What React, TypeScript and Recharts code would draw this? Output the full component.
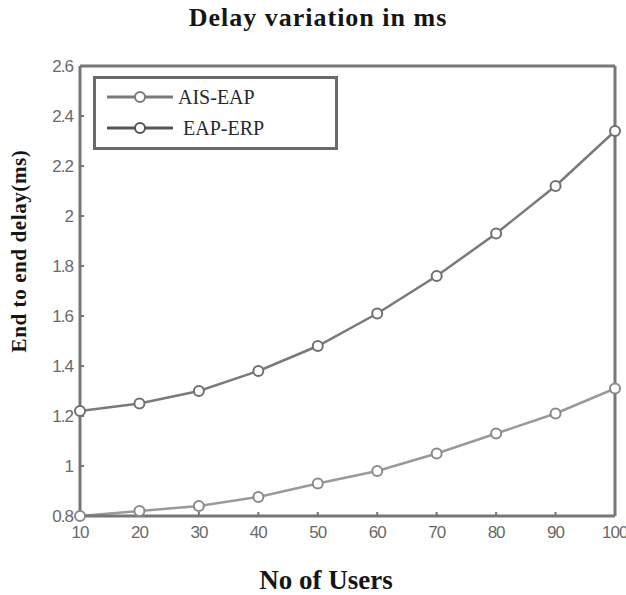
import {
  Line,
  LineChart,
  ReferenceLine,
  XAxis,
  YAxis,
} from 'recharts'

const users = [10, 20, 30, 40, 50, 60, 70, 80, 90, 100]
const aisEap = [0.8, 0.82, 0.84, 0.876, 0.93, 0.98, 1.05, 1.13, 1.21, 1.31]
const eapErp = [1.22, 1.25, 1.3, 1.38, 1.48, 1.61, 1.76, 1.93, 2.12, 2.34]
const yTicks = [0.8, 1, 1.2, 1.4, 1.6, 1.8, 2, 2.2, 2.4, 2.6]
const legendItems = [
  { name: 'AIS-EAP', color: '#7a7a7a' },
  { name: 'EAP-ERP', color: '#555' },
]

const data = users.map((u, i) => ({ users: u, aisEap: aisEap[i], eapErp: eapErp[i] }))

const axisColor = '#777'
const tickStyle = {
  fontSize: 17,
  fill: '#6a6a6a',
  fontFamily: 'Liberation Sans, Arial, sans-serif',
  letterSpacing: -1,
}
const serif = '"Liberation Serif", "Times New Roman", serif'

function LegendBox() {
  return (
    <div
      style={{
        position: 'absolute',
        left: 93,
        top: 76,
        border: '3px solid #6a6a6a',
        width: 245,
        height: 74,
        background: '#fff',
        boxSizing: 'border-box',
        zIndex: 2,
      }}
    >
      {legendItems.map((r, i) => (
        <div
          key={r.name}
          style={{
            position: 'absolute',
            top: 4 + i * 31,
            left: 10,
            display: 'flex',
            alignItems: 'center',
            height: 28,
          }}
        >
          <svg width={72} height={14}>
            <line x1={1} y1={7} x2={67} y2={7} stroke={r.color} strokeWidth={3} />
            <circle cx={34} cy={7} r={5} fill="#fff" stroke={r.color} strokeWidth={2} />
          </svg>
          <span
            style={{
              fontFamily: serif,
              fontSize: 20,
              color: '#2a2a2a',
              marginLeft: i === 0 ? 0 : 5,
            }}
          >
            {r.name}
          </span>
        </div>
      ))}
    </div>
  )
}

export default function App() {
  return (
    <div style={{ position: 'absolute', left: 0, top: 0, width: 626, height: 595, background: '#fff' }}>
      <div
        style={{
          position: 'absolute',
          top: 5,
          left: 0,
          width: 636,
          textAlign: 'center',
          fontFamily: serif,
          fontWeight: 'bold',
          fontSize: 26,
          lineHeight: '26px',
          letterSpacing: 1,
          color: '#151515',
        }}
      >
        Delay variation in ms
      </div>
      <div
        style={{
          position: 'absolute',
          top: 567,
          left: 0,
          width: 652,
          textAlign: 'center',
          fontFamily: serif,
          fontWeight: 'bold',
          fontSize: 27,
          lineHeight: '27px',
          color: '#151515',
        }}
      >
        No of Users
      </div>
      <div
        style={{
          position: 'absolute',
          left: 19,
          top: 251,
          transform: 'translate(-50%, -50%) rotate(-90deg)',
          whiteSpace: 'nowrap',
          fontFamily: serif,
          fontWeight: 'bold',
          fontSize: 21,
          letterSpacing: 0.6,
          color: '#151515',
        }}
      >
        End to end delay(ms)
      </div>
      <LegendBox />
      <LineChart
        width={626}
        height={595}
        data={data}
        margin={{ top: 66, right: 11, bottom: 49, left: 40 }}
      >
        <XAxis
          dataKey="users"
          type="number"
          domain={[10, 100]}
          ticks={users}
          tick={tickStyle}
          tickSize={-4}
          tickMargin={14}
          height={30}
          axisLine={{ stroke: axisColor, strokeWidth: 3 }}
          tickLine={{ stroke: axisColor, strokeWidth: 2 }}
        />
        <XAxis
          xAxisId="top"
          orientation="top"
          dataKey="users"
          type="number"
          domain={[10, 100]}
          ticks={users}
          tickFormatter={() => ''}
          tickSize={-4}
          height={0}
          axisLine={{ stroke: axisColor, strokeWidth: 3 }}
          tickLine={{ stroke: axisColor, strokeWidth: 2 }}
        />
        <YAxis
          type="number"
          domain={[0.8, 2.6]}
          ticks={yTicks}
          tick={tickStyle}
          tickSize={-4}
          tickMargin={11}
          width={40}
          axisLine={{ stroke: axisColor, strokeWidth: 3 }}
          tickLine={{ stroke: axisColor, strokeWidth: 2 }}
        />
        <YAxis
          yAxisId="right"
          orientation="right"
          type="number"
          domain={[0.8, 2.6]}
          ticks={yTicks}
          tickFormatter={() => ''}
          tickSize={-4}
          width={0}
          axisLine={{ stroke: axisColor, strokeWidth: 3 }}
          tickLine={{ stroke: axisColor, strokeWidth: 2 }}
        />
        <ReferenceLine y={2.6} stroke={axisColor} strokeWidth={3} />
        <ReferenceLine x={100} stroke={axisColor} strokeWidth={3} />
        <Line
          dataKey="eapErp"
          name="EAP-ERP"
          stroke="#7a7a7a"
          strokeWidth={2.5}
          dot={{ r: 5, fill: '#fff', stroke: '#707070', strokeWidth: 2 }}
          isAnimationActive={false}
        />
        <Line
          dataKey="aisEap"
          name="AIS-EAP"
          stroke="#9a9a9a"
          strokeWidth={2.5}
          dot={{ r: 5, fill: '#fff', stroke: '#8a8a8a', strokeWidth: 2 }}
          isAnimationActive={false}
        />
      </LineChart>
    </div>
  )
}
